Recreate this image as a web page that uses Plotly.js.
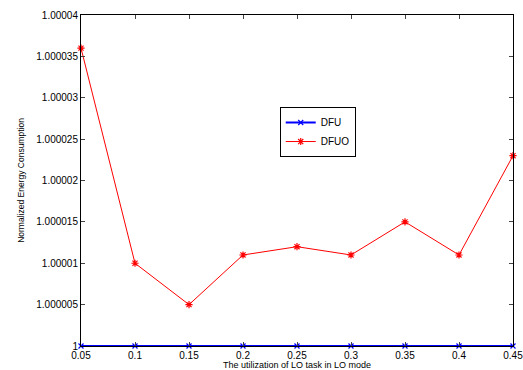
<!DOCTYPE html>
<html><head><meta charset="utf-8">
<script src="https://cdn.plot.ly/plotly-3.0.1.min.js"></script>
<style>body{margin:0;background:#fff}#c{width:523px;height:370px}</style>
</head><body><div id="c"></div>
<script>
var utilization = [0.05, 0.1, 0.15, 0.2, 0.25, 0.3, 0.35, 0.4, 0.45];
var dfu = [1, 1, 1, 1, 1, 1, 1, 1, 1];
var dfuo = [1.000036, 1.00001, 1.000005, 1.000011, 1.000012, 1.000011, 1.000015, 1.000011, 1.000023];
var xTickLabels = ['0.05','0.1','0.15','0.2','0.25','0.3','0.35','0.4','0.45'];
var yTickVals = [1, 1.000005, 1.00001, 1.000015, 1.00002, 1.000025, 1.00003, 1.000035, 1.00004];
var yTickLabels = ['1','1.000005','1.00001','1.000015','1.00002','1.000025','1.00003','1.000035','1.00004'];

var traces = [
  {x: utilization, y: dfu, name: 'DFU', mode: 'lines+markers', type: 'scatter',
   line: {color: '#0000ff', width: 2}, marker: {symbol: 'x-thin-open', size: 5, color: '#0000ff', line: {color: '#0000ff', width: 1.2}}, cliponaxis: false},
  {x: utilization, y: dfuo, name: 'DFUO', mode: 'lines+markers', type: 'scatter',
   line: {color: '#ff0000', width: 1}, marker: {symbol: 'asterisk-open', size: 6, color: '#ff0000', line: {color: '#ff0000', width: 1.2}}, cliponaxis: false}
];
var layout = {
  width: 523, height: 370,
  margin: {l: 81, r: 10, t: 15, b: 24},
  paper_bgcolor: '#fff', plot_bgcolor: '#fff',
  font: {family: 'Liberation Sans, Arial, sans-serif', size: 10, color: '#000'},
  showlegend: true,
  legend: {x: 0.46, y: 0.722, xanchor: 'left', yanchor: 'top', bordercolor: '#000', borderwidth: 1,
           bgcolor: '#fff', font: {size: 10}, tracegroupgap: 0, itemwidth: 30},
  xaxis: {range: [0.05, 0.45], tickvals: utilization, ticktext: xTickLabels, ticks: 'inside', ticklen: 4,
          showline: true, linecolor: '#000', linewidth: 1, mirror: 'ticks', showgrid: false, zeroline: false,
          ticklabeloverflow: 'allow',
          tickfont: {size: 10}, title: {text: 'The utilization of LO task in LO mode', font: {size: 9}, standoff: 3}},
  yaxis: {range: [1, 1.00004], tickvals: yTickVals, ticktext: yTickLabels, ticks: 'inside', ticklen: 4,
          showline: true, linecolor: '#000', linewidth: 1, mirror: 'ticks', showgrid: false, zeroline: false,
          tickfont: {size: 10}, title: {text: 'Normalized Energy Consumption', font: {size: 8.5}, standoff: 10}}
};
Plotly.newPlot('c', traces, layout, {displayModeBar: false, staticPlot: true});
</script></body></html>
